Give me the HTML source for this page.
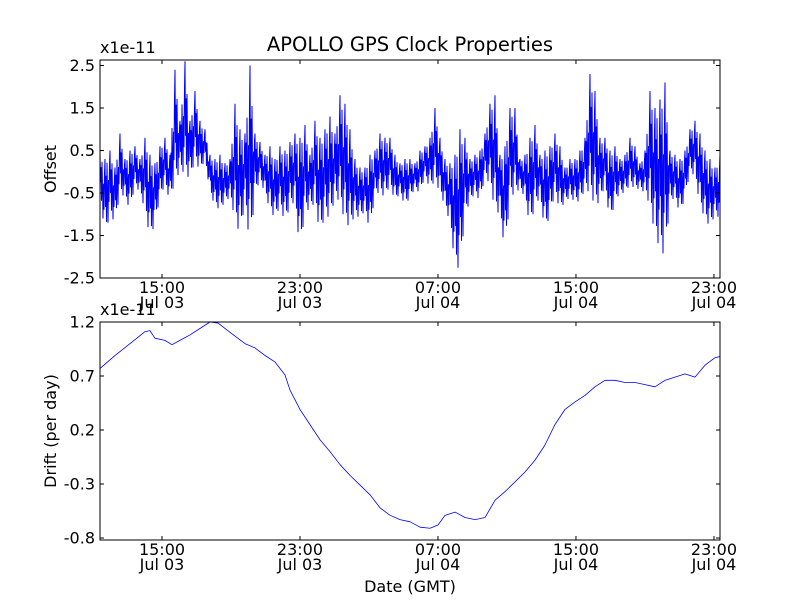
<!DOCTYPE html>
<html><head><meta charset="utf-8"><style>
html,body{margin:0;padding:0;background:#fff}
svg{display:block;font-family:"DejaVu Sans","Liberation Sans",sans-serif}
</style></head><body>
<svg id="chart" width="800" height="600" viewBox="0 0 800 600" xmlns="http://www.w3.org/2000/svg">
<rect width="800" height="600" fill="#fff"/>
<text x="410" y="51" font-size="19.5" text-anchor="middle">APOLLO GPS Clock Properties</text>
</svg>
<script>
const xTickHours=[15,23,31,39,47];
const xTickTime=["15:00","23:00","07:00","15:00","23:00"];
const xTickDate=["Jul 03","Jul 03","Jul 04","Jul 04","Jul 04"];
const xDomain=[11.406,47.35];
const offTicks=[2.5,1.5,0.5,-0.5,-1.5,-2.5];
const offTickLabels=["2.5","1.5","0.5","-0.5","-1.5","-2.5"];
const driftTicks=[1.2,0.7,0.2,-0.3,-0.8];
const driftTickLabels=["1.2","0.7","0.2","-0.3","-0.8"];
const offHi=[0.4,0.3,0.5,0.1,0.9,0.3,0.5,0.6,0.3,0.8,0.4,0.2,0.6,0.8,0.4,2.4,1.2,2.6,1.2,1.9,1.2,1.0,0.4,0.3,0.4,0.2,0.3,1.6,1.0,0.9,2.5,0.9,0.7,0.4,0.6,0.3,0.6,0.5,0.7,0.9,0.8,1.1,
0.4,1.2,0.8,1.0,1.3,0.9,1.8,1.6,1.0,0.3,0.1,0.1,0.4,0.5,0.9,0.8,0.8,0.4,0.2,0.3,0.3,0.2,0.5,0.6,0.8,1.5,0.8,0.3,0.2,0.4,1.0,0.8,0.3,0.4,0.5,0.9,1.6,1.8,0.4,0.6,1.5,1.5,
0.3,0.4,0.8,1.1,0.4,0.5,0.6,0.9,0.6,0.1,0.3,0.3,0.5,0.8,2.3,1.9,0.8,0.8,0.5,0.6,0.3,0.4,0.8,0.6,0.2,0.5,1.9,1.5,1.7,2.1,0.5,0.4,0.3,0.5,1.0,1.2,0.9,0.5,0.3,0.1,0.4];
const offLo=[-0.5,-1.5,-1.0,-1.2,-0.5,-0.6,-0.9,-0.3,-0.5,-0.9,-1.57,-1.2,-0.6,-0.3,-0.7,-0.2,0.0,0.0,-0.2,0.3,0.0,0.3,-0.5,-0.8,-0.9,-0.7,-0.6,-1.1,-1.5,-0.7,-1.8,-0.5,-0.2,-0.5,-0.9,-1.1,-0.8,-1.2,-0.8,-0.7,-1.9,-0.9,
-0.9,-0.7,-1.5,-1.0,-1.1,-0.6,-0.7,-1.2,-1.3,-1.0,-1.1,-0.9,-1.4,-0.5,-0.5,-0.6,-0.3,-0.7,-0.5,-0.8,-0.6,-0.4,-0.5,-0.1,-0.4,-0.2,-0.5,-0.8,-1.2,-2.2,-2.3,-1.0,-0.7,-0.5,-0.7,-0.1,-0.3,-0.9,-1.0,-1.9,-0.6,-0.5,
-0.4,-0.6,-1.3,-0.8,-0.6,-1.4,-1.0,-0.5,-0.9,-0.7,-0.6,-0.7,-0.7,-0.4,-0.5,-0.8,-0.7,-0.3,-1.2,-0.7,-0.5,-0.5,-0.3,-0.4,-0.4,-0.5,-0.8,-1.5,-1.8,-2.0,-0.7,-0.6,-1.0,-0.6,0.0,-0.1,-0.8,-1.1,-1.3,-1.0,-1.1];
const driftHours=[11.41,12.28,13.15,14.01,14.3,14.59,15.17,15.58,16.04,16.62,17.2,17.78,18.25,18.65,19.23,19.81,20.39,20.97,21.55,22.13,22.42,23.0,23.58,24.16,24.74,25.32,25.9,26.48,27.06,27.64,28.22,28.8,29.38,29.96,30.54,31.0,31.41,31.99,32.57,33.15,33.73,34.31,34.89,35.47,36.04,36.62,37.2,37.78,38.36,38.94,39.52,40.1,40.68,41.26,41.84,42.42,43.0,43.58,44.16,44.74,45.32,45.9,46.48,47.06,47.35];
const driftVals=[0.77,0.89,1.0,1.11,1.12,1.05,1.03,0.99,1.03,1.08,1.14,1.2,1.19,1.14,1.07,1.0,0.96,0.89,0.83,0.71,0.57,0.39,0.25,0.11,0.0,-0.12,-0.22,-0.31,-0.4,-0.52,-0.59,-0.63,-0.65,-0.7,-0.71,-0.68,-0.59,-0.56,-0.61,-0.63,-0.61,-0.45,-0.37,-0.28,-0.19,-0.08,0.06,0.25,0.39,0.46,0.52,0.6,0.66,0.66,0.64,0.64,0.62,0.6,0.66,0.69,0.72,0.69,0.8,0.87,0.88];

const svg=document.getElementById('chart');
const NS="http://www.w3.org/2000/svg";
function mk(tag,attrs,parent){const e=document.createElementNS(NS,tag);for(const k in attrs)e.setAttribute(k,attrs[k]);(parent||svg).appendChild(e);return e;}
const L=100,R=720;
const xs=t=>L+(t-xDomain[0])/(xDomain[1]-xDomain[0])*(R-L);
const yOff=v=>278-(v+2.5)*42.5;
const yDr=v=>538-(v+0.8)*108;

function axes(top,bot,name,ticks,labels,ys,ylabel){
  const g=mk('g',{});
  
  
  ticks.forEach((v,i)=>{
    const y=ys(v);
    mk('line',{x1:L,x2:L+4,y1:y,y2:y,stroke:'#000'},g);
    mk('line',{x1:R,x2:R-4,y1:y,y2:y,stroke:'#000'},g);
    const t=mk('text',{x:L-5,y:y+5.5,'font-size':16,'text-anchor':'end'},g);
    t.textContent=labels[i];
    
    
  });
  xTickHours.forEach((h,i)=>{
    const x=xs(h);
    mk('line',{x1:x,x2:x,y1:bot,y2:bot-4,stroke:'#000'},g);
    mk('line',{x1:x,x2:x,y1:top,y2:top+4,stroke:'#000'},g);
    const t1=mk('text',{x:x,y:bot+15,'font-size':16,'text-anchor':'middle'},g);
    t1.textContent=xTickTime[i];
    
    
    const t2=mk('text',{x:x,y:bot+30,'font-size':16,'text-anchor':'middle'},g);
    t2.textContent=xTickDate[i];
    
    
  });
  const sc=mk('text',{x:L,y:top-7,'font-size':16},g);
  sc.textContent='x1e-11';
  
  
  const cy=(top+bot)/2;
  const yl=mk('text',{x:56,y:cy,'font-size':16,'text-anchor':'middle',transform:`rotate(-90 56 ${cy})`},g);
  yl.textContent=ylabel;
  
  
  return g;
}

// offset series
const frac=[1,0.35,0.75,0.1,0.9,0.45,0,0.6,0.25,0.8];
let d='';const n=offHi.length;
for(let i=0;i<n;i++){
  const t0=xDomain[0]+(i/(n-1))*(xDomain[1]-xDomain[0]);
  const nxt=Math.min(i+1,n-1);
  for(let k=0;k<frac.length;k++){
    const f=k/frac.length;
    const hi=offHi[i]+(offHi[nxt]-offHi[i])*f, lo=offLo[i]+(offLo[nxt]-offLo[i])*f;
    const t=t0+f*(xDomain[1]-xDomain[0])/(n-1);
    if(i==n-1&&k>0)break;
    d+=(d?'L':'M')+xs(t).toFixed(2)+','+yOff(lo+frac[k]*(hi-lo)).toFixed(2);
  }
}
const clipT=mk('clipPath',{id:'cT'});mk('rect',{x:L,y:60,width:R-L,height:218},clipT);
const offPath=mk('path',{d:d,fill:'none',stroke:'#0000ff','stroke-width':1,'clip-path':'url(#cT)'});


const f1=mk('rect',{x:L,y:60,width:R-L,height:218,fill:'none',stroke:'#000'});


axes(60,278,'offset-axes',offTicks,offTickLabels,yOff,'Offset');

// drift series
let d2='';
driftHours.forEach((h,i)=>{d2+=(i?'L':'M')+xs(h).toFixed(2)+','+yDr(driftVals[i]).toFixed(2);});
const drPath=mk('path',{d:d2,fill:'none',stroke:'#0000ff','stroke-width':0.8,'stroke-linejoin':'round'});


const f2=mk('rect',{x:L,y:322,width:R-L,height:218,fill:'none',stroke:'#000'});


axes(322,540,'drift-axes',driftTicks,driftTickLabels,yDr,'Drift (per day)');

const xt=mk('text',{x:410,y:592,'font-size':16,'text-anchor':'middle'});
xt.textContent='Date (GMT)';


</script>
</body></html>
